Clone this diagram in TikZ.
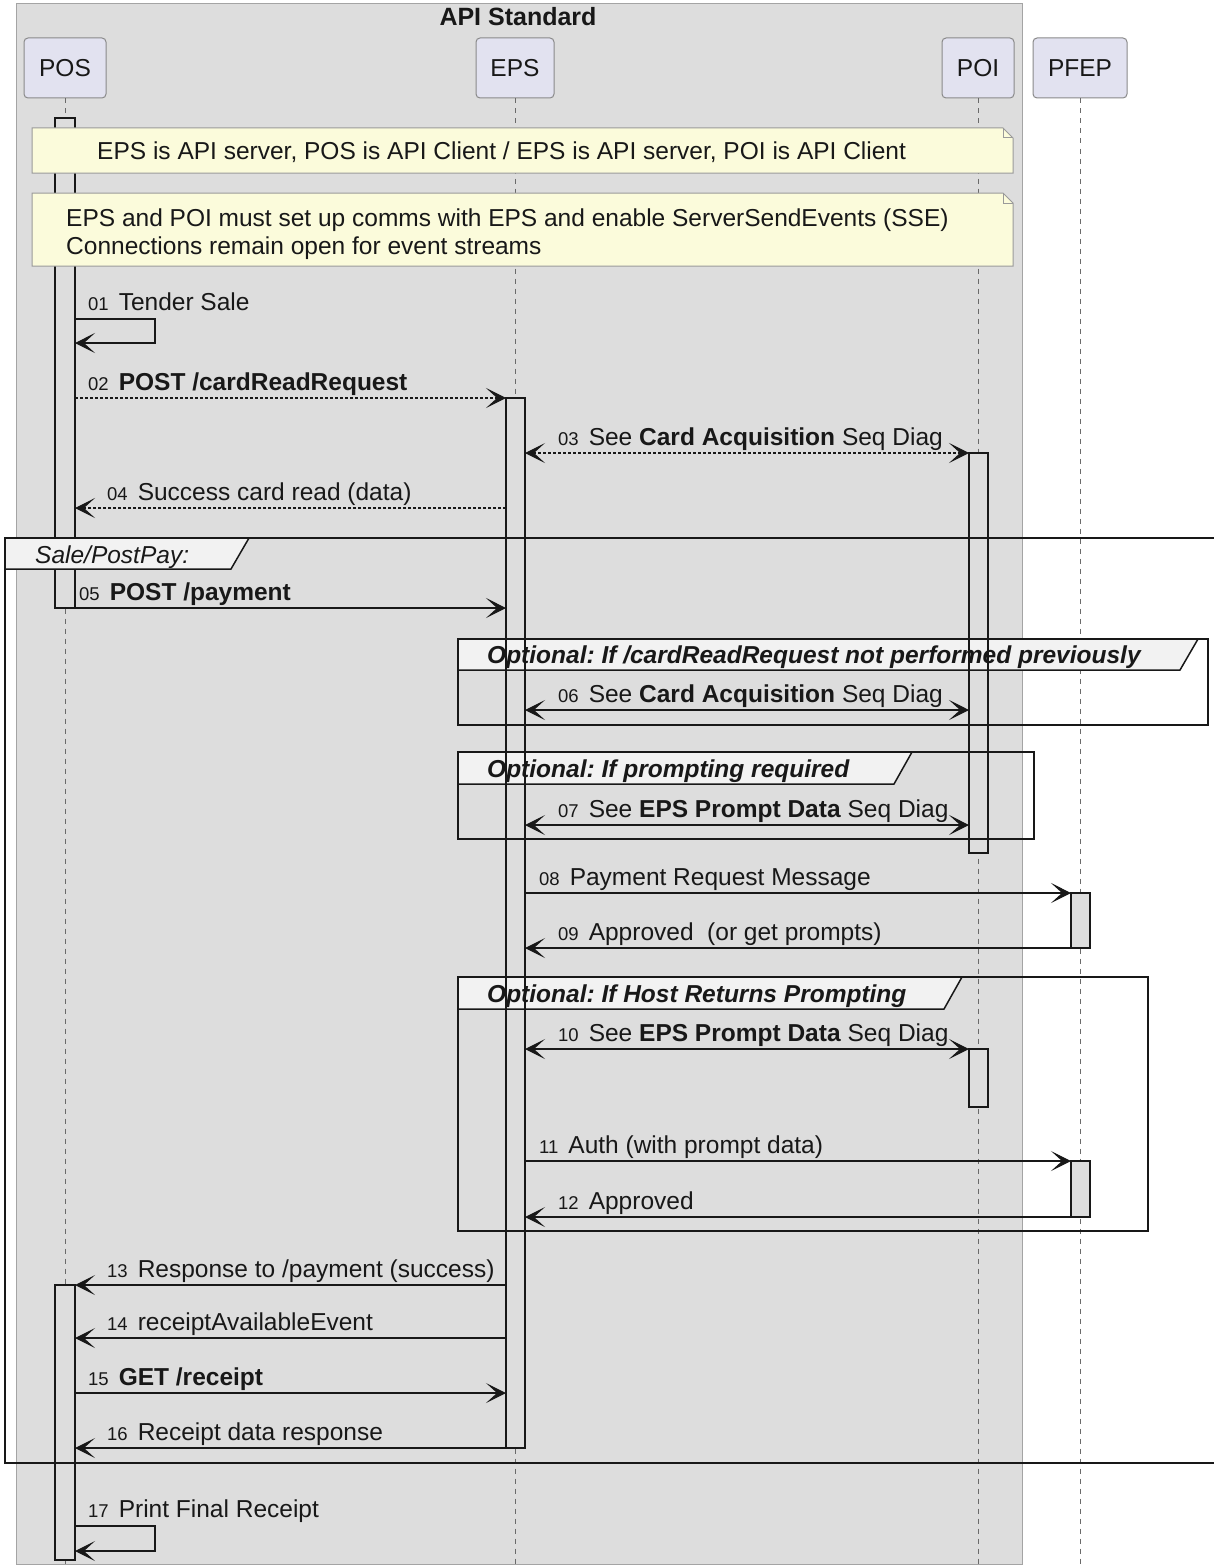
\documentclass[tikz,border=0pt]{standalone}
\usepackage{fontspec}
\setmainfont{Liberation Sans}
\usetikzlibrary{arrows.meta,calc}
\definecolor{boxbg}{HTML}{DDDDDD}
\definecolor{boxline}{HTML}{A4A4A4}
\definecolor{partfill}{HTML}{E2E2F0}
\definecolor{partline}{HTML}{8A8A8A}
\definecolor{notefill}{HTML}{FBFBDB}
\definecolor{noteline}{HTML}{9A9A9A}
\definecolor{hdrfill}{HTML}{F2F2F2}
\definecolor{ink}{HTML}{181818}
\definecolor{lifec}{HTML}{6A6A6A}
\newcommand{\sn}[1]{{\fontsize{18.5}{20}\selectfont #1}\hspace{10pt}}
\frenchspacing
\begin{document}
\begin{tikzpicture}[x=1pt,y=-1pt,
  font=\fontsize{24.5}{29}\selectfont,
  part/.style={draw=partline, line width=1pt, fill=partfill, rounded corners=4pt, minimum height=60pt, inner sep=0pt, text=ink},
  life/.style={draw=lifec, dash pattern=on 5pt off 5pt, line width=1pt},
  actfill/.style={fill=boxbg},
  actline/.style={draw=ink, line width=1.1pt},
  tip/.tip={Stealth[length=20pt,width=20pt,inset=11pt]},
  msg/.style={draw=ink, line width=1.1pt, -tip},
  msgd/.style={draw=ink, line width=1.1pt, dash pattern=on 3pt off 2pt, -tip},
  dmsg/.style={draw=ink, line width=1.1pt, tip-tip},
  dmsgd/.style={draw=ink, line width=1.1pt, dash pattern=on 3pt off 2pt, tip-tip},
  lbl/.style={anchor=base west, inner sep=0pt, text=ink},
  frm/.style={draw=ink, line width=2.5pt},
  hdr/.style={draw=ink, line width=1.5pt, fill=hdrfill},
  note/.style={draw=noteline, line width=1pt, fill=notefill},
]
\useasboundingbox (0,0) rectangle (1214,1568);
% API Standard box
\fill[white] (0,0) rectangle (1214,1568);
\draw[draw=boxline, fill=boxbg, line width=1pt] (16,4) rectangle (1022,1564);
\node[font=\fontsize{25}{29}\selectfont\bfseries, text=ink, inner sep=0pt] (title) at (518,17) {API Standard};

% participants
\node[part, minimum width=82pt] (pos) at (65,68) {POS};
\node[part, minimum width=78pt] (eps) at (515,68) {EPS};
\node[part, minimum width=72pt] (poi) at (978,68) {POI};
\node[part, minimum width=94pt] (pfep) at (1080,68) {PFEP};

% lifelines
\coordinate (posE) at (65,1568);
\coordinate (epsE) at (515,1568);
\coordinate (poiE) at (978,1568);
\coordinate (pfepE) at (1080,1568);
\draw[life] (pos.south) -- (posE);
\draw[life] (eps.south) -- (epsE);
\draw[life] (poi.south) -- (poiE);
\draw[life] (pfep.south) -- (pfepE);

% activation fills
\fill[actfill] (55,118) rectangle (75,608);
\fill[actfill] (506,398) rectangle (525,1448);
\fill[actfill] (969,453) rectangle (988,853);
\fill[actfill] (1071,893) rectangle (1090,948);
\fill[actfill] (969,1049) rectangle (988,1107);
\fill[actfill] (1071,1161) rectangle (1090,1217);
\fill[actfill] (55,1285) rectangle (75,1560);

% group frames
\draw[frm] (5,538) rectangle (1230,1463);
\draw[frm] (458,639) rectangle (1208,725);
\draw[frm] (458,752) rectangle (1034,839);
\draw[frm] (458,977) rectangle (1148,1231);
\draw[hdr] (458,639) -- (1198,639) -- (1180,670) -- (458,670) -- cycle;
\draw[hdr] (458,752) -- (912,752) -- (894,784) -- (458,784) -- cycle;
\draw[hdr] (458,977) -- (962,977) -- (944,1009) -- (458,1009) -- cycle;

% activation outlines
\draw[actline] (55,118) rectangle (75,608);
\draw[actline] (506,398) rectangle (525,1448);
\draw[actline] (969,453) rectangle (988,853);
\draw[actline] (1071,893) rectangle (1090,948);
\draw[actline] (969,1049) rectangle (988,1107);
\draw[actline] (1071,1161) rectangle (1090,1217);
\draw[actline] (55,1285) rectangle (75,1560);

% group labels
\node[lbl, font=\fontsize{24.5}{29}\selectfont\bfseries\itshape] (g1) at (487,663) {Optional: If /cardReadRequest not performed previously};
\node[lbl, font=\fontsize{24.5}{29}\selectfont\bfseries\itshape] (g2) at (487,777) {Optional: If prompting required};
\node[lbl, font=\fontsize{24.5}{29}\selectfont\bfseries\itshape] (g3) at (487,1002) {Optional: If Host Returns Prompting};
\draw[hdr] (5,538) -- (249,538) -- (231,569) -- (5,569) -- cycle;
\node[lbl, font=\fontsize{24.5}{29}\selectfont\itshape] (g0) at (35,563) {Sale/PostPay:};

% notes
\draw[note] (32,128) -- (1003,128) -- (1013,138) -- (1013,173) -- (32,173) -- cycle;
\draw[noteline, line width=1pt] (1003,128) -- (1003,138) -- (1013,138);
\node[lbl] (n1) at (97,160) {EPS is API server, POS is API Client / EPS is API server, POI is API Client};
\draw[note] (32,193) -- (1003,193) -- (1013,203) -- (1013,266) -- (32,266) -- cycle;
\draw[noteline, line width=1pt] (1003,193) -- (1003,203) -- (1013,203);
\node[lbl] (n2a) at (66,226) {EPS and POI must set up comms with EPS and enable ServerSendEvents (SSE)};
\node[lbl] (n2b) at (66,254) {Connections remain open for event streams};

% message endpoints
\coordinate (m01s) at (75,319); \coordinate (m01a) at (155,319);
\coordinate (m01b) at (155,343); \coordinate (m01e) at (75,343);
\coordinate (m02s) at (75,398); \coordinate (m02e) at (506,398);
\coordinate (m03s) at (525,453); \coordinate (m03e) at (969,453);
\coordinate (m04s) at (506,508); \coordinate (m04e) at (75,508);
\coordinate (m05s) at (75,608); \coordinate (m05e) at (506,608);
\coordinate (m06s) at (525,710); \coordinate (m06e) at (969,710);
\coordinate (m07s) at (525,825); \coordinate (m07e) at (969,825);
\coordinate (m08s) at (525,893); \coordinate (m08e) at (1071,893);
\coordinate (m09s) at (1071,948); \coordinate (m09e) at (525,948);
\coordinate (m10s) at (525,1049); \coordinate (m10e) at (969,1049);
\coordinate (m11s) at (525,1161); \coordinate (m11e) at (1071,1161);
\coordinate (m12s) at (1071,1217); \coordinate (m12e) at (525,1217);
\coordinate (m13s) at (506,1285); \coordinate (m13e) at (75,1285);
\coordinate (m14s) at (506,1338); \coordinate (m14e) at (75,1338);
\coordinate (m15s) at (75,1393); \coordinate (m15e) at (506,1393);
\coordinate (m16s) at (506,1448); \coordinate (m16e) at (75,1448);
\coordinate (m17s) at (75,1526); \coordinate (m17a) at (155,1526);
\coordinate (m17b) at (155,1551); \coordinate (m17e) at (75,1551);

% messages
\draw[msg] (m01s) -- (m01a) -- (m01b) -- (m01e);
\node[lbl] (l01) at (88,310) {\sn{01}Tender Sale};
\draw[msgd] (m02s) -- (m02e);
\node[lbl] (l02) at (88,390) {\sn{02}\textbf{POST /cardReadRequest}};
\draw[dmsgd] (m03s) -- (m03e);
\node[lbl] (l03) at (558,445) {\sn{03}See \textbf{Card Acquisition} Seq Diag};
\draw[msgd] (m04s) -- (m04e);
\node[lbl] (l04) at (107,500) {\sn{04}Success card read (data)};
\draw[msg] (m05s) -- (m05e);
\node[lbl] (l05) at (79,600) {\sn{05}\textbf{POST /payment}};
\draw[dmsg] (m06s) -- (m06e);
\node[lbl] (l06) at (558,702) {\sn{06}See \textbf{Card Acquisition} Seq Diag};
\draw[dmsg] (m07s) -- (m07e);
\node[lbl] (l07) at (558,817) {\sn{07}See \textbf{EPS Prompt Data} Seq Diag};
\draw[msg] (m08s) -- (m08e);
\node[lbl] (l08) at (539,885) {\sn{08}Payment Request Message};
\draw[msg] (m09s) -- (m09e);
\node[lbl] (l09) at (558,940) {\sn{09}Approved\ \ (or get prompts)};
\draw[dmsg] (m10s) -- (m10e);
\node[lbl] (l10) at (558,1041) {\sn{10}See \textbf{EPS Prompt Data} Seq Diag};
\draw[msg] (m11s) -- (m11e);
\node[lbl] (l11) at (539,1153) {\sn{11}Auth (with prompt data)};
\draw[msg] (m12s) -- (m12e);
\node[lbl] (l12) at (558,1209) {\sn{12}Approved};
\draw[msg] (m13s) -- (m13e);
\node[lbl] (l13) at (107,1277) {\sn{13}Response to /payment (success)};
\draw[msg] (m14s) -- (m14e);
\node[lbl] (l14) at (107,1330) {\sn{14}receiptAvailableEvent};
\draw[msg] (m15s) -- (m15e);
\node[lbl] (l15) at (88,1385) {\sn{15}\textbf{GET /receipt}};
\draw[msg] (m16s) -- (m16e);
\node[lbl] (l16) at (107,1440) {\sn{16}Receipt data response};
\draw[msg] (m17s) -- (m17a) -- (m17b) -- (m17e);
\node[lbl] (l17) at (88,1517) {\sn{17}Print Final Receipt};
\end{tikzpicture}
\end{document}
